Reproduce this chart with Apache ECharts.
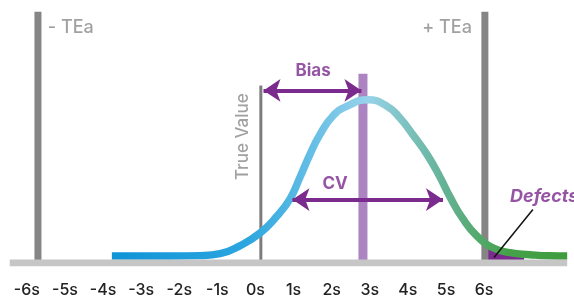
<!DOCTYPE html>
<html>
<head>
<meta charset="utf-8">
<title>Bias, CV and TEa</title>
<script src="https://cdn.jsdelivr.net/npm/echarts@6/dist/echarts.min.js"></script>
<style>
  html, body { margin: 0; padding: 0; background: #fff; }
  #chart { width: 574px; height: 298px; }
</style>
</head>
<body>
<div id="chart"></div>
<script>
// axis ticks, in units of s (sigma)
var tickValues = [-6, -5, -4, -3, -2, -1, 0, 1, 2, 3, 4, 5, 6];

// distribution curve (x in s, y in arbitrary height)
var curveX = [-3.77, -3.0, -2.2, -1.46, -0.93, -0.41, 0.12, 0.56, 0.91, 1.17, 1.43, 1.69, 2.03, 2.40, 2.95, 3.45, 3.79, 4.13, 4.50, 4.84, 5.10, 5.45, 5.81, 6.23, 6.68, 7.20, 7.70, 8.18];
var curveY = [2.8, 2.8, 2.8, 3.0, 3.8, 7.0, 12.2, 19.0, 26.2, 35.0, 44.2, 52.2, 59.8, 63.8, 66.4, 63.8, 59.0, 52.2, 44.2, 35.0, 27.0, 17.8, 11.0, 6.2, 4.2, 3.4, 2.9, 2.8];

// tail beyond +TEa (defects)
var defectX = [6.05, 6.23, 6.50, 6.80, 7.05];
var defectY = [8.0, 6.2, 4.8, 4.0, 3.4];

// reference lines
var baseRange = [-6.45, 8.18];
var teaX = [-5.71, 6.02];
var teaTop = 102.2;
var trueValueX = 0.14;
var trueValueTop = 72.2;
var meanX = 2.82;
var meanTop = 77;

// arrows
var biasArrow = [[0.21, 70.2], [2.78, 70.2]];
var cvArrow = [[0.97, 25.8], [4.92, 25.8]];
var defectPointer = [[6.26, 2.2], [7.28, 21.8]];

var chart = echarts.init(document.getElementById('chart'));

function vline(x, top, width, color) {
  return {
    type: 'line',
    data: [[x, 0], [x, top]],
    symbol: 'none',
    clip: false,
    silent: true,
    lineStyle: { color: color, width: width, cap: 'butt' }
  };
}

function textMark(text, x, y, label) {
  return {
    type: 'scatter',
    data: [[x, y]],
    symbolSize: 0,
    silent: true,
    clip: false,
    z: 10,
    label: Object.assign({
      show: true,
      position: 'inside',
      formatter: text,
      fontFamily: 'Inter, Liberation Sans, Arial, sans-serif',
      fontWeight: 500
    }, label)
  };
}

function arrow(coords) {
  return {
    type: 'lines',
    coordinateSystem: 'cartesian2d',
    symbol: ['arrow', 'arrow'],
    symbolSize: 17,
    silent: true,
    z: 6,
    lineStyle: { color: '#7b2a8d', width: 4, opacity: 1, curveness: 0 },
    data: [{ coords: coords }]
  };
}

var option = {
  animation: false,
  grid: { left: 0, right: 0, top: 0, bottom: 30.5 },
  xAxis: {
    type: 'value',
    min: -6.706,
    max: 8.359,
    axisLine: { show: false },
    axisTick: { show: false },
    splitLine: { show: false },
    axisLabel: {
      customValues: tickValues,
      formatter: '{value}s',
      margin: 19,
      color: '#222',
      fontSize: 16,
      fontWeight: 500,
      fontFamily: 'Inter, Liberation Sans, Arial, sans-serif'
    }
  },
  yAxis: {
    type: 'value',
    min: 0,
    max: 107,
    show: false
  },
  series: [
    vline(teaX[0], teaTop, 7, '#858585'),
    vline(teaX[1], teaTop, 7, '#858585'),
    vline(trueValueX, trueValueTop, 3, '#7d7d7d'),
    vline(meanX, meanTop, 9, '#ac84c2'),
    {
      type: 'line',
      data: defectX.map(function (x, i) { return [x, defectY[i]]; }),
      symbol: 'none',
      smooth: true,
      lineStyle: { width: 0 },
      areaStyle: { color: '#7b2a8d', opacity: 1 }
    },
    {
      type: 'line',
      data: curveX.map(function (x, i) { return [x, curveY[i]]; }),
      symbol: 'none',
      smooth: 0.5,
      z: 4,
      lineStyle: {
        width: 7.5,
        cap: 'butt',
        color: new echarts.graphic.LinearGradient(0, 0, 1, 0, [
          { offset: 0, color: '#0f93d7' },
          { offset: 0.3, color: '#2ba6df' },
          { offset: 0.56, color: '#97d3ea' },
          { offset: 0.72, color: '#66b39a' },
          { offset: 0.86, color: '#46a24a' },
          { offset: 1, color: '#3d9b3d' }
        ])
      }
    },
    {
      type: 'line',
      data: [[baseRange[0], 0], [baseRange[1], 0]],
      symbol: 'none',
      silent: true,
      z: 5,
      lineStyle: { color: '#c6c6c6', width: 7, cap: 'butt' }
    },
    arrow(biasArrow),
    arrow(cvArrow),
    {
      type: 'lines',
      coordinateSystem: 'cartesian2d',
      silent: true,
      z: 7,
      lineStyle: { color: '#111', width: 1.5, opacity: 1 },
      data: [{ coords: defectPointer }]
    },
    textMark('- TEa', -5.45, 95.8, { align: 'left', color: '#8a8a8a', fontSize: 18 }),
    textMark('+ TEa', 5.68, 95.8, { align: 'right', color: '#8a8a8a', fontSize: 18 }),
    textMark('Bias', 1.51, 78.2, { color: '#7b2a8d', fontSize: 17, fontWeight: 'bold' }),
    textMark('CV', 2.09, 32.2, { color: '#7b2a8d', fontSize: 17, fontWeight: 'bold' }),
    textMark('True Value', -0.33, 51.4, { color: '#8a8a8a', fontSize: 17, rotate: 90 }),
    textMark('Defects', 6.68, 27, { align: 'left', color: '#7b2a8d', fontSize: 18, fontWeight: 'bold', fontStyle: 'italic' })
  ]
};

chart.setOption(option);
</script>
</body>
</html>
